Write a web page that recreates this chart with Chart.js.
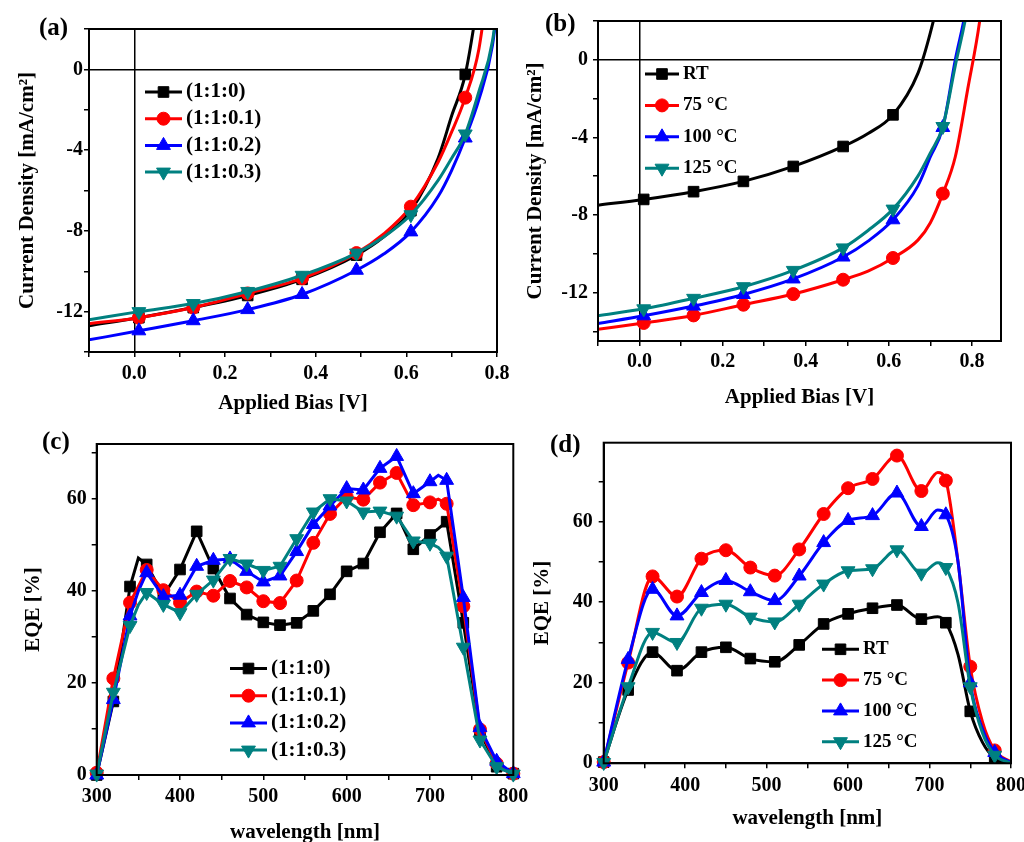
<!DOCTYPE html>
<html>
<head>
<meta charset="utf-8">
<script src="https://cdn.jsdelivr.net/npm/chart.js@4.4.1/dist/chart.umd.min.js"></script>
<style>
  body { margin: 0; width: 1024px; height: 842px; overflow: hidden; background: #fff; position: relative; }
  canvas { position: absolute; }
  .tag { position: absolute; font: bold 25px "Liberation Serif", "Times New Roman", serif; line-height: 25px; color: #000; }
</style>
</head>
<body>
<canvas id="jvA" width="512" height="420" style="left:0;top:0"></canvas>
<canvas id="jvB" width="512" height="420" style="left:512px;top:0"></canvas>
<canvas id="eqeC" width="530" height="440" style="left:0;top:420px"></canvas>
<canvas id="eqeD" width="494" height="440" style="left:530px;top:420px"></canvas>
<div class="tag" style="left:39px;top:14px">(a)</div>
<div class="tag" style="left:545px;top:10px">(b)</div>
<div class="tag" style="left:42px;top:428px">(c)</div>
<div class="tag" style="left:550px;top:431px">(d)</div>
<script>
const FONT = '"Liberation Serif", "Times New Roman", serif';

// (a) J-V, blend ratio
const biasA = [-0.1, 0.01, 0.13, 0.25, 0.37, 0.49, 0.55, 0.61, 0.67, 0.70, 0.73, 0.76, 0.79, 0.82];
const jA_0 = [-12.7, -12.3, -11.8, -11.2, -10.4, -9.2, -8.3, -7.0, -4.4, -2.3, -0.25, 3.8, 9, 15];
const jA_01 = [-12.6, -12.3, -11.8, -11.1, -10.35, -9.1, -8.15, -6.8, -4.6, -3.1, -1.4, 1.0, 6, 11];
const jA_02 = [-13.4, -12.95, -12.45, -11.9, -11.15, -9.95, -9.15, -8.05, -6.3, -5.0, -3.4, -1.5, 1.2, 7];
const jA_03 = [-12.4, -12.0, -11.6, -11.0, -10.2, -9.1, -8.3, -7.2, -5.5, -4.4, -3.2, -1.1, 1.4, 7];

// (b) J-V, annealing temperature
const biasB = [-0.1, 0.01, 0.13, 0.25, 0.37, 0.49, 0.55, 0.61, 0.67, 0.70, 0.73, 0.76, 0.79, 0.82, 0.85];
const jB_RT = [-7.5, -7.2, -6.8, -6.27, -5.5, -4.47, -3.8, -2.84, -0.7, 1.4, 4.2, 8, 13, 18, 24];
const jB_75 = [-13.9, -13.57, -13.18, -12.63, -12.08, -11.34, -10.9, -10.22, -9.3, -8.4, -6.9, -5.0, -1.5, 2.2, 8];
const jB_100 = [-13.6, -13.2, -12.7, -12.1, -11.3, -10.17, -9.35, -8.25, -6.5, -5.0, -3.49, 0.0, 3.2, 9, 15];
const jB_125 = [-13.2, -12.84, -12.3, -11.7, -10.86, -9.7, -8.8, -7.7, -6.0, -4.8, -3.44, -0.3, 2.8, 8, 14];
const jvMarked = [0.01, 0.13, 0.25, 0.37, 0.49, 0.61, 0.73];

// (c) EQE, blend ratio
const wlC = [300, 320, 340, 350, 360, 380, 400, 420, 440, 460, 480, 500, 520, 540, 560, 580, 600, 620, 640, 660, 680, 700, 710, 720, 740, 760, 780, 800];
const eqeC_0 = [0, 16, 41, 47.2, 45.8, 39, 44.7, 53, 44.9, 38.4, 34.9, 33.2, 32.6, 33.1, 35.7, 39.3, 44.3, 46, 52.8, 56.9, 49.1, 52.2, 53.6, 55.1, 33.1, 9.5, 1.8, 0.3];
const eqeC_01 = [0.5, 21, 37.5, 41, 44.6, 40.2, 37.5, 39.9, 39, 42.2, 40.8, 37.8, 37.4, 42.3, 50.5, 56.8, 60.5, 59.9, 63.6, 65.7, 58.7, 59.3, 60, 59, 36.7, 9.9, 2.5, 0.3];
const eqeC_02 = [0, 16.4, 34.6, 40, 44, 38.8, 39.1, 45.4, 46.7, 47, 44.3, 42, 43.3, 48.6, 54.5, 58.5, 62.3, 62, 66.7, 69.3, 61.2, 63.8, 65.2, 64.1, 38.6, 10.3, 3, 0.3];
const eqeC_03 = [0.2, 18, 32.5, 37, 39.7, 37.1, 35.3, 39.3, 42.4, 47.1, 45.9, 44.5, 45.4, 51.4, 57.2, 60.1, 59.6, 57.2, 57.4, 56.3, 50.9, 50.4, 49.5, 47.6, 27.8, 7.6, 1.8, 0.2];

// (d) EQE, annealing temperature
const wlD = [300, 330, 360, 390, 420, 450, 480, 510, 540, 570, 600, 630, 660, 690, 710, 720, 735, 750, 765, 780, 800];
const eqeD_RT = [0.3, 18.2, 27.6, 23, 27.6, 28.8, 26, 25.2, 29.4, 34.6, 37.1, 38.5, 39.3, 35.8, 36.4, 34.9, 27, 12.9, 5.2, 1.3, 0.2];
const eqeD_75 = [0.3, 25, 46.4, 41.4, 50.8, 52.9, 48.6, 46.6, 53.1, 61.9, 68.3, 70.6, 76.4, 67.6, 72.2, 70.2, 50, 24, 10.3, 3.2, 0.3];
const eqeD_100 = [0.3, 25.8, 43.2, 36.6, 42.4, 45.4, 42.6, 40.4, 46.5, 54.8, 60.3, 61.5, 67.1, 58.8, 62.9, 61.7, 50, 20, 8.5, 2.7, 0.2];
const eqeD_125 = [0.2, 19, 32.5, 30, 38.5, 39.5, 36.3, 35.1, 39.5, 44.5, 47.8, 48.3, 53, 47.2, 49.8, 48.6, 39.8, 19, 7.5, 2, 0.1];

const ratioLabels = ["(1:1:0)", "(1:1:0.1)", "(1:1:0.2)", "(1:1:0.3)"];
const tempLabels = ["RT", "75 °C", "100 °C", "125 °C"];
const colors = ["#000000", "#ff0000", "#0000ff", "#008080"];
const markers = [["rect", 0, 7.5], ["circle", 0, 6.5], ["triangle", 0, 8], ["triangle", 180, 8]];

const jvXTicks = [0, 0.2, 0.4, 0.6, 0.8];
const jvYTicks = [-12, -8, -4, 0];
const eqeXTicks = [300, 400, 500, 600, 700, 800];
const eqeYTicks = [0, 20, 40, 60];

function tickValues(min, max, step) {
    const out = [];
    for (let i = Math.ceil(min / step - 1e-6); i * step <= max + 1e-6; i++) {
        out.push(Math.round(i * step * 1000) / 1000);
    }
    return out;
}

function axis(o) {
    return {
        type: "linear", min: o.min, max: o.max,
        afterBuildTicks: s => { s.ticks = tickValues(o.min, o.max, o.step).map(v => ({ value: v })); },
        afterFit: s => {
            if (o.width) s.width = o.width;
            if (o.height) s.height = o.height;
            s.paddingLeft = s.paddingRight = s.paddingTop = s.paddingBottom = 0;
        },
        ticks: {
            autoSkip: false, maxRotation: 0, padding: o.tickPad, color: "#000",
            font: { family: FONT, size: 20, weight: "bold" },
            callback: v => o.majors.some(m => Math.abs(m - v) < 1e-6) ? o.fmt(v) : ""
        },
        grid: {
            drawOnChartArea: !!o.zeroLine,
            color: c => (o.zeroLine && c.tick && c.tick.value === 0) ? "#000" : "rgba(0,0,0,0)",
            lineWidth: 1.5, tickColor: "#000", tickLength: 5, tickWidth: 1.5
        },
        border: { display: true, color: "#000", width: 2 },
        title: {
            display: true, text: o.title, color: "#000",
            font: { family: FONT, size: 21, weight: "bold", lineHeight: 1 },
            padding: o.titlePad
        }
    };
}

function drawMarker(ctx, style, rot, x, y, r, color) {
    ctx.fillStyle = color;
    ctx.strokeStyle = color;
    ctx.lineWidth = 1;
    Chart.helpers.drawPoint(ctx, { pointStyle: style, rotation: rot, radius: r, borderWidth: 1 }, x, y);
}

const frameAndLegend = {
    id: "frameAndLegend",
    afterDatasetsDraw(chart, args, opts) {
        const { ctx, chartArea: a } = chart;
        ctx.save();
        ctx.strokeStyle = "#000";
        ctx.lineWidth = 2;
        ctx.strokeRect(a.left, a.top, a.right - a.left, a.bottom - a.top);
        ctx.font = "bold " + opts.size + "px " + FONT;
        ctx.textBaseline = "middle";
        chart.data.datasets.forEach((ds, i) => {
            const y = opts.y + i * opts.gap;
            ctx.strokeStyle = ds.borderColor;
            ctx.lineWidth = ds.borderWidth;
            ctx.beginPath();
            ctx.moveTo(opts.x, y);
            ctx.lineTo(opts.x + opts.len, y);
            ctx.stroke();
            drawMarker(ctx, ds.pointStyle, ds.pointRotation, opts.x + opts.len / 2, y, markers[i][2], ds.borderColor);
            ctx.fillStyle = "#000";
            ctx.fillText(ds.label, opts.x + opts.len + 4, y);
        });
        ctx.restore();
    }
};

function createPanel(id, xs, series, labels, isMarked, smooth, layout, xAxis, yAxis, legend) {
    const datasets = series.map((vals, i) => ({
        label: labels[i],
        data: xs.map((x, k) => ({ x: x, y: vals[k] })),
        borderColor: colors[i],
        backgroundColor: colors[i],
        borderWidth: 3,
        pointStyle: markers[i][0],
        pointRotation: markers[i][1],
        pointRadius: c => (c.raw && isMarked(c.raw.x)) ? markers[i][2] : 0,
        pointBorderWidth: 1,
        tension: smooth ? 0.4 : 0,
        cubicInterpolationMode: smooth ? "monotone" : "default",
        order: 4 - i,
        clip: smooth === "clip" ? undefined : 8
    }));
    new Chart(document.getElementById(id), {
        type: "line",
        data: { datasets: datasets },
        options: {
            responsive: false, animation: false, events: [],
            layout: { padding: layout },
            plugins: { legend: { display: false }, tooltip: { enabled: false }, frameAndLegend: legend },
            scales: { x: xAxis, y: yAxis }
        },
        plugins: [frameAndLegend]
    });
}

const jvIsMarked = x => jvMarked.some(m => Math.abs(m - x) < 1e-6);
const fmt1 = v => v.toFixed(1);
const fmt0 = v => String(v);

// (a)
createPanel("jvA", biasA, [jA_0, jA_01, jA_02, jA_03], ratioLabels, jvIsMarked, "clip",
    { left: 0, top: 29, right: 15, bottom: 0 },
    axis({ min: -0.1, max: 0.8, step: 0.1, majors: jvXTicks, fmt: fmt1, height: 68, tickPad: 5, zeroLine: true,
        title: "Applied Bias [V]", titlePad: { top: 0, bottom: 6 } }),
    axis({ min: -14, max: 2, step: 2, majors: jvYTicks, fmt: fmt0, width: 89, tickPad: 1, zeroLine: true,
        title: "Current Density [mA/cm²]", titlePad: { top: 17, bottom: 0 } }),
    { x: 145, y: 92, gap: 26.7, len: 37, size: 21 });

// (b)
createPanel("jvB", biasB, [jB_RT, jB_75, jB_100, jB_125], tempLabels, jvIsMarked, "clip",
    { left: 0, top: 21, right: 23, bottom: 0 },
    axis({ min: -0.1, max: 0.87, step: 0.1, majors: jvXTicks, fmt: fmt1, height: 79, tickPad: 4, zeroLine: true,
        title: "Applied Bias [V]", titlePad: { top: 0, bottom: 12 } }),
    axis({ min: -14.5, max: 2, step: 2, majors: jvYTicks, fmt: fmt0, width: 86, tickPad: 5, zeroLine: true,
        title: "Current Density [mA/cm²]", titlePad: { top: 13, bottom: 0 } }),
    { x: 133, y: 74, gap: 31.4, len: 34, size: 19 });

// (c)
createPanel("eqeC", wlC, [eqeC_0, eqeC_01, eqeC_02, eqeC_03], ratioLabels, x => x % 20 === 0, false,
    { left: 0, top: 24, right: 16.7, bottom: 0 },
    axis({ min: 300, max: 800, step: 50, majors: eqeXTicks, fmt: fmt0, height: 85, tickPad: 5,
        title: "wavelength [nm]", titlePad: { top: 0, bottom: 17 } }),
    axis({ min: 0, max: 72, step: 10, majors: eqeYTicks, fmt: fmt0, width: 96.7, tickPad: 5,
        title: "EQE [%]", titlePad: { top: 23, bottom: 0 } }),
    { x: 230, y: 248.5, gap: 27.2, len: 37, size: 21 });

// (d)
createPanel("eqeD", wlD, [eqeD_RT, eqeD_75, eqeD_100, eqeD_125], tempLabels, x => (x - 300) % 30 === 0, true,
    { left: 0, top: 22.7, right: 13, bottom: 0 },
    axis({ min: 300, max: 800, step: 50, majors: eqeXTicks, fmt: fmt0, height: 96.7, tickPad: 6,
        title: "wavelength [nm]", titlePad: { top: 0, bottom: 31 } }),
    axis({ min: 0, max: 79.6, step: 10, majors: eqeYTicks, fmt: fmt0, width: 73.7, tickPad: 6,
        title: "EQE [%]", titlePad: { top: 2, bottom: 0 } }),
    { x: 292, y: 229.3, gap: 30.8, len: 37, size: 19 });
</script>
</body>
</html>
